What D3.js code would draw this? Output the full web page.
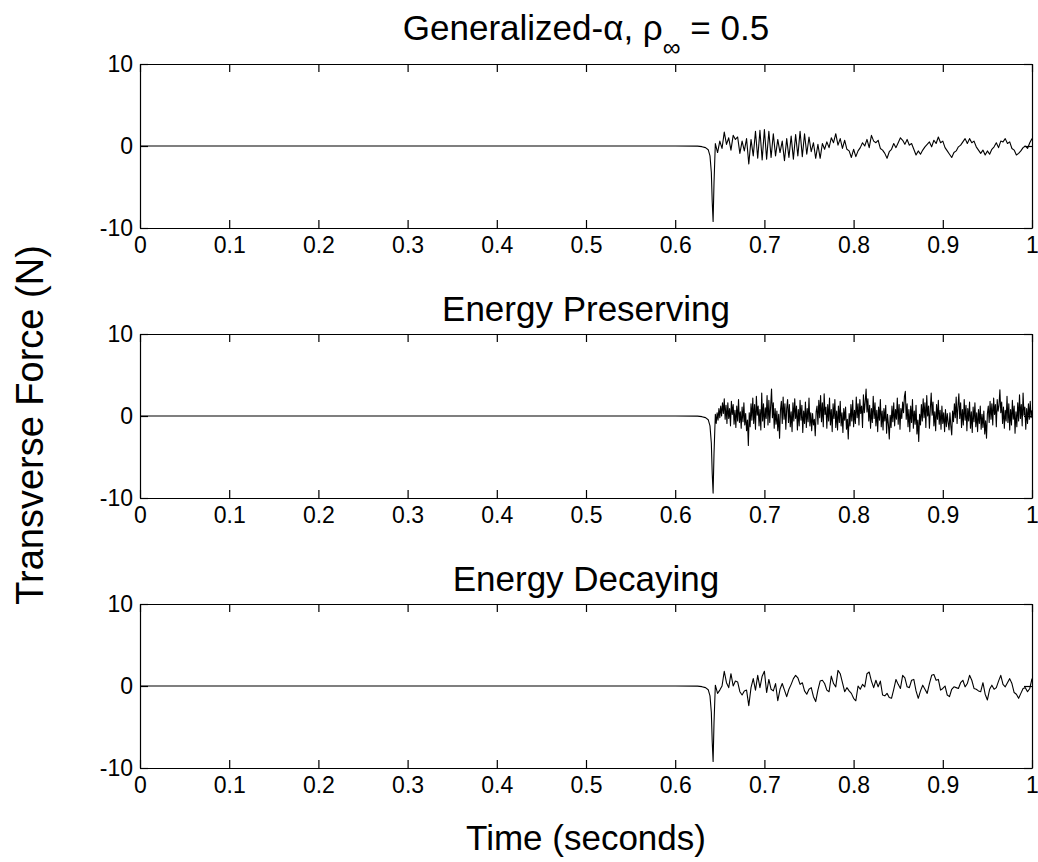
<!DOCTYPE html>
<html>
<head>
<meta charset="utf-8">
<script src="https://cdn.jsdelivr.net/npm/d3@7"></script>
<style>
  body { margin: 0; background: #fff; }
  text { font-family: "Liberation Sans", Arial, Helvetica, sans-serif; fill: #000; }
</style>
</head>
<body>
<script>

//// data
var panel_titles = ["Generalized-\u03b1, \u03c1", "Energy Preserving", "Energy Decaying"];
var x_ticks = [0, 0.1, 0.2, 0.3, 0.4, 0.5, 0.6, 0.7, 0.8, 0.9, 1];
var x_tick_labels = ["0", "0.1", "0.2", "0.3", "0.4", "0.5", "0.6", "0.7", "0.8", "0.9", "1"];
var y_ticks = [-10, 0, 10];
var y_tick_labels = ["-10", "0", "10"];

// flat part and the impact spike (same times in all three runs)
var lead_times = [0, 0.6, 0.625, 0.63, 0.634, 0.637, 0.639, 0.6405, 0.6415, 0.6425, 0.6435];
var lead_ga = [0, 0, -0.02, -0.08, -0.2, -0.45, -1.2, -3.2, -6.8, -9.2, -4.5];
var lead_ep = [0, 0, -0.02, -0.08, -0.2, -0.45, -1.2, -3.3, -7.0, -9.4, -4.6];
var lead_ed = [0, 0, -0.02, -0.08, -0.2, -0.45, -1.2, -3.2, -6.8, -9.2, -4.5];

// after the spike: values sampled from t = 0.645 on
var noise_start = 0.645;
var ga_step = 0.0025;
var ga_values = [
  0.3, -0.8, 0.6, -0.3, 1.7, 0.2, 1.0, -0.5, 1.3, 0.8,
  1.1, -0.9, 0.6, -0.6, 0.9, -2.2, 0.8, -1.2, 1.8, -1.5,
  1.9, -1.7, 2.0, -1.6, 1.8, -1.4, 1.5, -1.2, 0.8, -0.8,
  0.6, -1.8, 0.9, -1.4, 1.2, -1.6, 1.4, -1.2, 1.8, -1.3,
  1.5, -1.0, 1.1, -0.7, 0.4, -1.5, 0.2, -1.5, 0.3, -0.4,
  0.5, -0.2, 1.0, 0.4, 1.5, 0.1, 0.9, -0.3, 0.7, -0.4,
  -0.6, -1.4, -0.4, -1.3, -0.6, -0.2, 0.4, 0.0, 0.8, -0.2,
  1.3, 0.6, 0.4, 0.7, -0.3, -0.5, -0.9, -1.5, -0.7, -0.4,
  0.3, -0.2, 0.4, 1.0, 0.7, 0.2, 0.8, 0.1, 0.3, -0.4,
  -1.1, -0.6, -1.0, -0.5, -0.1, 0.2, 0.5, -0.1, 0.7, 0.3,
  1.1, 0.4, 0.6, -0.2, -0.6, -1.0, -1.4, -0.8, -0.6, -0.1,
  0.1, 0.5, 0.9, 0.3, 0.9, 0.4, 0.6, -0.1, -0.5, -0.9,
  -0.5, -1.1, -0.6, -1.0, -0.4, -0.1, 0.4, -0.2, 0.6, 0.5,
  0.9, 0.3, 0.5, -0.3, -0.5, -1.1, -0.9, -0.6, -0.2, 0.0,
  -0.3, 0.4, 0.9
];
var ep_step = 0.001;
var ep_values = [
  0.2, -0.9, 0.4, -0.5, 0.9, -0.2, 1.2, 0.0, 1.6, 0.3,
  2.1, -0.4, 1.3, -0.9, 1.6, -0.3, 0.9, -1.2, 1.8, 0.2,
  1.4, -1.0, 0.7, -1.4, 1.2, -0.6, 2.0, -0.8, 0.5, -1.5,
  1.1, -0.7, 1.6, -1.1, 0.3, -1.8, -0.5, -3.6, 0.4, -1.3,
  1.5, -0.5, 2.2, -0.9, 1.4, -1.6, 2.4, 0.1, 1.2, -1.2,
  0.8, -1.7, 2.8, -0.6, 1.5, -1.4, 1.0, -0.3, 2.5, -1.1,
  1.9, -0.8, 1.2, 3.3, -0.2, 1.6, -1.5, 0.9, -1.0, 0.6,
  -1.8, 0.2, -2.7, 0.7, 1.8, -0.9, 2.3, -0.4, 1.5, -1.6,
  0.9, 2.0, -0.8, 1.4, -1.3, 0.5, -1.9, 1.6, -0.6, 2.1,
  -0.3, 1.2, -1.7, 0.8, -1.2, 1.9, -0.5, 1.3, -2.0, 0.6,
  -0.9, 1.7, -1.4, 0.9, -0.7, 2.2, -1.2, 0.4, -1.8, 0.3,
  -1.1, -0.4, -2.4, 0.5, 1.2, -1.0, 1.9, -0.2, 2.5, -0.7,
  1.6, -1.3, 2.7, 0.2, 1.1, -1.5, 1.4, -0.6, 2.2, -1.1,
  0.8, -1.9, 1.5, -0.3, 2.0, -1.4, 0.6, -1.7, 1.2, -0.8,
  1.8, -1.2, 0.4, -2.0, 0.9, -0.5, 1.1, -1.6, -0.4, -2.8,
  0.3, -1.2, 1.4, -0.6, 1.9, -1.3, 0.7, -0.9, 2.3, -0.2,
  1.5, -1.1, 2.0, 0.3, 1.2, -1.4, 2.6, 0.4, 1.7, 3.3,
  0.5, 2.1, -0.6, 1.3, -1.5, 0.9, -0.8, 2.4, -0.3, 1.6,
  -1.2, 0.7, -1.9, 1.1, -0.5, 2.0, -1.3, 0.6, -1.7, 0.9,
  -0.6, 1.3, -2.1, 0.2, -1.0, -2.8, 0.1, -1.4, 1.2, -0.7,
  1.6, -1.2, 0.8, -0.4, 2.2, -1.0, 1.4, -1.6, 0.9, -0.3,
  1.7, 0.4, 2.4, 3.0, -0.4, 1.5, -1.3, 0.8, -1.9, 1.2,
  -0.8, 2.0, -1.5, 0.6, -1.0, 1.3, -2.2, -0.5, -3.1, 0.2,
  -1.1, 1.4, -0.6, 2.1, -0.2, 1.6, -1.4, 2.5, 0.0, 1.2,
  -1.5, 0.9, 2.8, 0.1, 1.7, -1.2, 0.5, -1.8, 1.4, -0.4,
  1.9, -1.0, 0.7, -1.6, 1.2, -0.9, 0.4, -1.9, 0.8, -1.3,
  0.3, -0.8, -1.7, 0.4, -1.2, -2.3, 0.6, -0.7, 1.5, -0.2,
  2.3, -0.9, 1.2, 2.7, -0.3, 1.6, -1.4, 0.8, -1.1, 2.0,
  -0.5, 1.3, -1.8, 0.9, -0.6, 1.7, -1.5, 0.5, -2.0, 1.1,
  -0.7, 1.6, -1.3, 0.4, -1.9, 0.8, -0.9, 1.2, -1.6, 0.2,
  -1.4, 0.6, -2.2, -0.6, -2.7, 0.3, 1.2, -0.8, 1.8, -0.4,
  1.5, -1.1, 2.2, 0.2, 1.4, -1.3, 2.0, 0.6, 1.3, 3.2,
  0.4, 1.7, -0.9, 1.1, -1.5, 0.7, -0.6, 2.4, -0.8, 1.5,
  -1.7, 0.8, -1.1, 1.9, -0.4, 1.2, -2.1, 0.5, -1.3, 1.6,
  -0.6, 2.6, -0.3, 1.4, -1.2, 2.8, 0.1, 1.1, -1.6, 0.9,
  -0.9, 1.5, -0.4, 1.8, -0.2, 0.7
];
var ed_step = 0.0025;
var ed_values = [
  0.1, -0.9, -0.5, 0.0, 1.8, 0.4, -0.2, 1.5, 0.0, 0.6,
  0.5, -0.7, -1.1, -0.6, -0.5, -2.4, -0.2, 0.9, -0.5, 1.3,
  -0.2, 1.2, 1.8, -0.8, 0.8, -0.4, -0.6, 0.3, -1.8, -0.4,
  0.3, -0.5, -1.3, -0.4, 0.2, 0.9, 1.3, 1.0, 0.2, 0.4,
  -0.6, -1.0, -0.4, -0.2, -1.3, -1.9, -0.5, 0.6, 0.7, 0.3,
  -0.5, -0.7, 1.2, 0.3, -0.1, 1.9, 1.5, 0.4, -0.7, -0.2,
  -0.6, -0.9, -1.5, -1.8, 0.0, -0.4, 0.2, -0.1, 1.5, 1.7,
  0.6, -0.2, 0.7, -0.1, 0.6, -1.1, -1.2, -0.9, -1.4, -1.5,
  -0.4, 0.8, 0.2, -0.3, 1.3, 1.0, -0.1, -0.2, 0.7, 0.8,
  -0.6, -1.5, -0.6, 0.1, -0.4, -0.9, 0.3, 1.3, 1.4, 0.7,
  0.8, -0.5, -0.3, 0.0, -1.1, -1.3, -0.4, -0.1, -0.2, -0.3,
  0.4, 0.7, -0.1, 0.3, 1.3, 0.7, -0.3, -0.4, -0.6, -0.7,
  0.4, -1.0, -1.7, -0.4, 0.1, -0.4, -0.2, 0.6, 1.3, 0.2,
  -0.1, 0.4, 0.9, 0.3, -0.8, -1.0, -1.5, -0.9, -0.3, -0.2,
  -0.7, -0.3, 0.9
];

//// layout
var par = {
  w: 1038, h: 862,
  left: 140, right: 1032,
  panel_tops: [64, 334, 604],
  panel_height: 164,
  title_y: [40, 321, 591],
  tick_len: 8,
  tick_font: 23,
  title_font: 35,
  label_font: 35
};

var make_series = function(lead_vals, start, step, vals){
  // glue the spike part and the sampled tail into one list of [t, v]
  var pts = lead_times.map(function(t, i){ return [t, lead_vals[i]]; });
  vals.forEach(function(v, i){ pts.push([start + i*step, v]); });
  return pts;
}

var series = [
  make_series(lead_ga, noise_start, ga_step, ga_values),
  make_series(lead_ep, noise_start, ep_step, ep_values),
  make_series(lead_ed, noise_start, ed_step, ed_values)
];

var svg = d3.select("body")
            .append("svg")
            .attr("width", par.w)
            .attr("height", par.h);

svg.append("rect")
   .attr("x", 0).attr("y", 0).attr("width", par.w).attr("height", par.h)
   .style("fill", "#fff");

var x = d3.scaleLinear().domain([0, 1]).range([par.left, par.right]);

var style_axis = function(g){
  g.attr("font-family", null).attr("font-size", par.tick_font);
  g.selectAll("path, line").attr("stroke", "#000").attr("stroke-width", 1.2);
  g.selectAll("text").attr("fill", "#000");
}

var place_panel = function(k){
  var top = par.panel_tops[k];
  var bottom = top + par.panel_height;
  var y = d3.scaleLinear().domain([-10, 10]).range([bottom, top]);
  var g = svg.append("g").attr("class", "panel" + k);

  // the force trace
  g.append("path")
   .datum(series[k])
   .attr("d", d3.line().x(function(d){ return x(d[0]); }).y(function(d){ return y(d[1]); }))
   .attr("fill", "none")
   .attr("stroke", "#000")
   .attr("stroke-width", 1.1)
   .attr("stroke-linejoin", "round");

  // box with inward ticks on all four sides
  g.append("g").attr("transform", "translate(0," + bottom + ")")
   .call(d3.axisBottom(x).tickValues(x_ticks)
          .tickFormat(function(d, i){ return x_tick_labels[i]; })
          .tickSizeInner(-par.tick_len).tickSizeOuter(0).tickPadding(9))
   .call(style_axis);
  g.append("g").attr("transform", "translate(0," + top + ")")
   .call(d3.axisTop(x).tickValues(x_ticks).tickFormat("")
          .tickSizeInner(-par.tick_len).tickSizeOuter(0))
   .call(style_axis);
  g.append("g").attr("transform", "translate(" + par.left + ",0)")
   .call(d3.axisLeft(y).tickValues(y_ticks)
          .tickFormat(function(d, i){ return y_tick_labels[i]; })
          .tickSizeInner(-par.tick_len).tickSizeOuter(0).tickPadding(7))
   .call(style_axis);
  g.append("g").attr("transform", "translate(" + par.right + ",0)")
   .call(d3.axisRight(y).tickValues(y_ticks).tickFormat("")
          .tickSizeInner(-par.tick_len).tickSizeOuter(0))
   .call(style_axis);

  // title
  var t = g.append("text")
           .attr("x", (par.left + par.right)/2)
           .attr("y", par.title_y[k])
           .attr("text-anchor", "middle")
           .attr("font-size", par.title_font)
           .text(panel_titles[k]);
  if (k == 0){
    t.append("tspan").attr("dy", 16).attr("font-size", 25).text("\u221e");
    t.append("tspan").attr("dy", -16).text(" = 0.5");
  }
}

for (var k=0; k<3; k++){ place_panel(k); }

// shared axis labels
svg.append("text")
   .attr("x", (par.left + par.right)/2)
   .attr("y", 850)
   .attr("text-anchor", "middle")
   .attr("font-size", par.label_font)
   .text("Time (seconds)");

svg.append("text")
   .attr("transform", "translate(43,425) rotate(-90)")
   .attr("text-anchor", "middle")
   .attr("font-size", 38)
   .text("Transverse Force (N)");

</script>
</body>
</html>
